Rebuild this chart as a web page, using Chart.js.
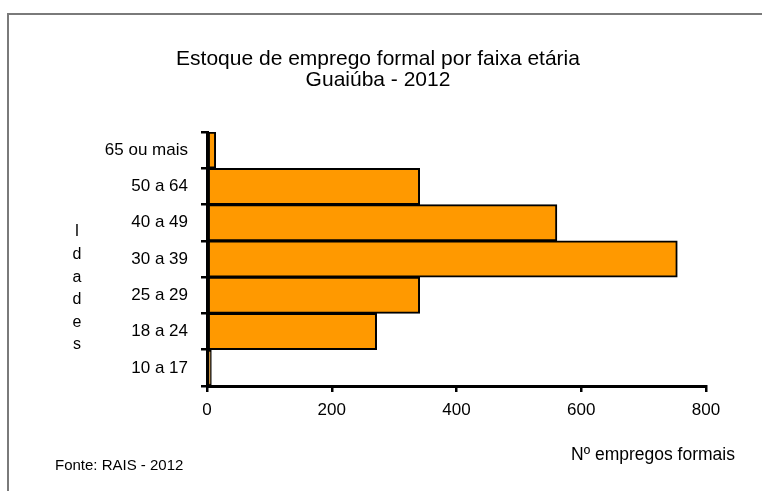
<!DOCTYPE html>
<html lang="pt-BR">
<head>
<meta charset="utf-8">
<title>Estoque de emprego formal por faixa etária - Guaiúba 2012</title>
<script src="https://cdn.jsdelivr.net/npm/chart.js@4.4.1/dist/chart.umd.min.js"></script>
<style>
    html, body { margin: 0; padding: 0; background: #fff; }
    #wrap { position: relative; width: 762px; height: 491px; }
</style>
</head>
<body>
<div id="wrap"><canvas id="chart-faixa-etaria" width="762" height="491"></canvas></div>
<script>
// ======================================================================
// Dados
//
const faixas = ['65 ou mais', '50 a 64', '40 a 49', '30 a 39', '25 a 29', '18 a 24', '10 a 17'];
const empregos = [14, 341, 561, 754, 341, 272, 7];
const ticksX = [0, 200, 400, 600, 800];
const titulo = ['Estoque de emprego formal por faixa etária', 'Guaiúba - 2012'];
const tituloEixoY = 'Idades';
const tituloEixoX = 'Nº empregos formais';
const fonte = 'Fonte: RAIS - 2012';

(function () {
    "use strict";

    const FONT = 'Arial, "Liberation Sans", sans-serif';

    Chart.defaults.font.family = FONT;
    Chart.defaults.color = '#000';

    // ======================================================================
    // Textos extras (moldura, eixo Y empilhado, fonte, título do eixo X)
    //
    const textosExtras = {
        id: 'textosExtras',
        beforeDraw(chart) {
            const ctx = chart.ctx;
            ctx.save();
            ctx.fillStyle = '#fff';
            ctx.fillRect(0, 0, chart.width, chart.height);
            ctx.strokeStyle = '#7a7a7a';
            ctx.lineWidth = 2;
            ctx.strokeRect(8, 14, chart.width + 20, chart.height + 20);
            ctx.restore();
        },
        afterDraw(chart) {
            const ctx = chart.ctx;
            ctx.save();
            ctx.fillStyle = '#000';
            ctx.textBaseline = 'middle';

            // "Idades" letra por letra
            ctx.font = `16px ${FONT}`;
            ctx.textAlign = 'center';
            tituloEixoY.split('').forEach((ch, i) => ctx.fillText(ch, 77, 232 + i * 22.6));

            // Nº empregos formais
            ctx.font = `17.5px ${FONT}`;
            ctx.fillText(tituloEixoX, 653, 455);

            // Fonte
            ctx.font = `15px ${FONT}`;
            ctx.textAlign = 'left';
            ctx.fillText(fonte, 55, 466);

            ctx.restore();
        }
    };

    // ======================================================================
    // Chart
    //
    new Chart(document.getElementById('chart-faixa-etaria'), {
        type: 'bar',
        data: {
            labels: faixas,
            datasets: [
                {
                    label: tituloEixoX,
                    data: empregos,
                    backgroundColor: '#ff9900',
                    borderColor: '#000',
                    borderWidth: 2,
                    borderSkipped: false,
                    barPercentage: 1,
                    categoryPercentage: 1
                }
            ]
        },
        options: {
            indexAxis: 'y',
            responsive: false,
            animation: false,
            devicePixelRatio: 1,
            layout: {
                // esquerda/direita assim para o título ficar centrado em x≈378
                padding: { left: 50, right: 56, top: 0, bottom: 0 }
            },
            plugins: {
                legend: { display: false },
                tooltip: { enabled: false },
                title: {
                    display: true,
                    text: titulo,
                    color: '#000',
                    font: { size: 21, weight: 'normal', lineHeight: 1 },
                    padding: { top: 48.5, bottom: 41.5 }
                }
            },
            scales: {
                x: {
                    min: ticksX[0],
                    max: ticksX[ticksX.length - 1],
                    ticks: {
                        stepSize: ticksX[1] - ticksX[0],
                        font: { size: 17 },
                        color: '#000',
                        padding: 8
                    },
                    grid: {
                        drawOnChartArea: false,
                        drawTicks: true,
                        tickLength: 6,
                        color: '#000',
                        lineWidth: 2.5
                    },
                    border: { display: true, color: '#000', width: 3 },
                    afterFit(scale) { scale.height = 105; }
                },
                y: {
                    offset: true,
                    ticks: {
                        font: { size: 17 },
                        color: '#000',
                        padding: 13
                    },
                    grid: {
                        offset: true,
                        drawOnChartArea: false,
                        drawTicks: true,
                        tickLength: 6,
                        color: '#000',
                        lineWidth: 2.5
                    },
                    border: { display: true, color: '#000', width: 3 },
                    afterFit(scale) { scale.width = 157; }
                }
            }
        },
        plugins: [textosExtras]
    });
})();
</script>
</body>
</html>
